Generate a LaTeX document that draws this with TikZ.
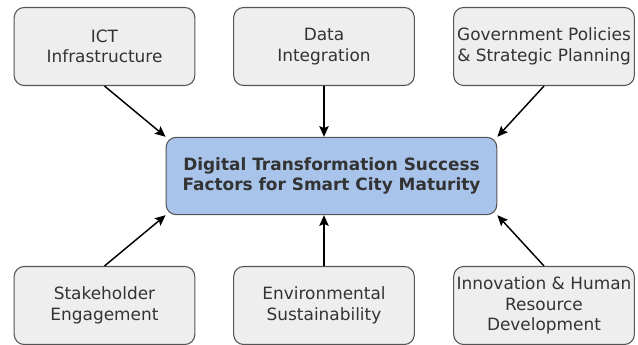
\documentclass[tikz,border=0pt]{standalone}
\usepackage{fontspec}
\setmainfont{DejaVu Sans}
\usetikzlibrary{arrows.meta}

\definecolor{boxfill}{HTML}{EEEEEE}
\definecolor{boxline}{HTML}{555555}
\definecolor{hubfill}{HTML}{A9C4EB}
\definecolor{txt}{HTML}{333333}

\tikzset{
  factor/.style={draw=boxline, fill=boxfill, rounded corners=7.5pt, line width=0.8pt,
    minimum width=135.5pt, minimum height=58.5pt, align=center, text=txt,
    font=\fontsize{12.7}{15.5}\selectfont, inner sep=1pt},
  hub/.style={factor, fill=hubfill, minimum width=248pt, minimum height=58pt,
    font=\bfseries\fontsize{12.7}{15.5}\selectfont},
  feeds/.style={draw=black, line width=1.1pt, -{Stealth[length=8pt,width=7pt,inset=1.5pt]}}
}

\begin{document}
\begin{tikzpicture}[x=0.75pt,y=-0.75pt]
   \useasboundingbox (0,0) rectangle (638,345);

   \draw (331.5,176) node[hub] (hub) {Digital Transformation Success\\Factors for Smart City Maturity};

   \draw (104.5,46.5) node[factor] (ict) {ICT\\Infrastructure};
   \draw (324,46.5) node[factor] (data) {Data\\Integration};
   \draw (544,46.5) node[factor] (policy) {Government Policies\\\& Strategic Planning};

   \draw (104.5,305.5) node[factor] (stake) {Stakeholder\\Engagement};
   \draw (324,305.5) node[factor] (env) {Environmental\\Sustainability};
   \draw (544,305.5) node[factor] (innov) {Innovation \& Human\\Resource\\Development};

     \path (ict.south) edge[feeds] (hub.north west);
     \path (data.south) edge[feeds] (hub.north -| data.south);
     \path (policy.south) edge[feeds] (hub.north east);
     \path (stake.north) edge[feeds] (hub.south west);
     \path (env.north) edge[feeds] (hub.south -| env.north);
     \path (innov.north) edge[feeds] (hub.south east);

\end{tikzpicture}
\end{document}
